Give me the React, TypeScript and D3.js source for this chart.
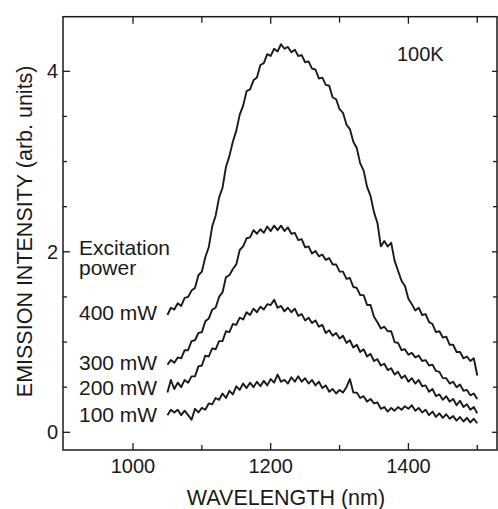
import React from "react";
import * as d3 from "d3";

const wavelengths = [
  1050, 1055, 1060, 1065, 1070, 1075, 1080, 1085, 1090, 1095,
  1100, 1105, 1110, 1115, 1120, 1125, 1130, 1135, 1140, 1145,
  1150, 1155, 1160, 1165, 1170, 1175, 1180, 1185, 1190, 1195,
  1200, 1205, 1210, 1215, 1220, 1225, 1230, 1235, 1240, 1245,
  1250, 1255, 1260, 1265, 1270, 1275, 1280, 1285, 1290, 1295,
  1300, 1305, 1310, 1315, 1320, 1325, 1330, 1335, 1340, 1345,
  1350, 1355, 1360, 1365, 1370, 1375, 1380, 1385, 1390, 1395,
  1400, 1405, 1410, 1415, 1420, 1425, 1430, 1435, 1440, 1445,
  1450, 1455, 1460, 1465, 1470, 1475, 1480, 1485, 1490, 1495,
  1500,
];

const p400 = [
  1.30, 1.38, 1.36, 1.43, 1.40, 1.49, 1.50, 1.57, 1.60, 1.74,
  1.78, 1.94, 2.05, 2.28, 2.40, 2.60, 2.71, 2.94, 3.06, 3.22,
  3.34, 3.52, 3.62, 3.78, 3.80, 3.90, 3.93, 4.07, 4.09, 4.19,
  4.17, 4.25, 4.22, 4.30, 4.25, 4.27, 4.21, 4.24, 4.17, 4.18,
  4.10, 4.11, 4.03, 4.02, 3.92, 3.93, 3.85, 3.84, 3.71, 3.69,
  3.58, 3.54, 3.41, 3.36, 3.22, 3.15, 2.98, 2.90, 2.72, 2.62,
  2.44, 2.32, 2.06, 2.12, 2.06, 2.10, 1.90, 1.79, 1.68, 1.62,
  1.48, 1.42, 1.35, 1.38, 1.30, 1.31, 1.22, 1.20, 1.11, 1.12,
  1.05, 1.06, 0.97, 0.97, 0.89, 0.89, 0.82, 0.84, 0.79, 0.82,
  0.63,
];

const p300 = [
  0.75, 0.80, 0.77, 0.83, 0.82, 0.91, 0.91, 1.01, 1.02, 1.10,
  1.11, 1.23, 1.26, 1.36, 1.38, 1.50, 1.55, 1.72, 1.74, 1.81,
  1.86, 2.02, 2.06, 2.15, 2.16, 2.24, 2.20, 2.25, 2.21, 2.28,
  2.23, 2.29, 2.24, 2.29, 2.23, 2.27, 2.20, 2.21, 2.13, 2.14,
  2.05, 2.06, 1.98, 2.01, 1.95, 1.97, 1.91, 1.93, 1.86, 1.86,
  1.78, 1.78, 1.70, 1.71, 1.61, 1.60, 1.52, 1.52, 1.41, 1.41,
  1.28, 1.22, 1.15, 1.17, 1.12, 1.12, 1.00, 0.99, 0.91, 0.92,
  0.86, 0.88, 0.83, 0.85, 0.79, 0.80, 0.74, 0.75, 0.68, 0.67,
  0.60, 0.60, 0.54, 0.56, 0.50, 0.53, 0.46, 0.47, 0.41, 0.43,
  0.37,
];

const p200 = [
  0.44, 0.58, 0.48, 0.55, 0.50, 0.58, 0.55, 0.62, 0.62, 0.73,
  0.74, 0.85, 0.84, 0.93, 0.92, 1.01, 1.01, 1.12, 1.11, 1.20,
  1.19, 1.27, 1.25, 1.33, 1.30, 1.37, 1.33, 1.39, 1.36, 1.42,
  1.41, 1.47, 1.38, 1.40, 1.34, 1.38, 1.33, 1.37, 1.29, 1.31,
  1.24, 1.27, 1.21, 1.24, 1.17, 1.19, 1.10, 1.13, 1.07, 1.10,
  1.04, 1.07, 0.99, 1.02, 0.94, 0.97, 0.89, 0.92, 0.84, 0.87,
  0.79, 0.81, 0.74, 0.76, 0.69, 0.71, 0.64, 0.67, 0.60, 0.63,
  0.56, 0.60, 0.54, 0.58, 0.51, 0.52, 0.45, 0.48, 0.40, 0.42,
  0.36, 0.40, 0.34, 0.37, 0.30, 0.35, 0.28, 0.31, 0.25, 0.28,
  0.21,
];

const p100 = [
  0.19, 0.25, 0.22, 0.25, 0.19, 0.24, 0.19, 0.14, 0.26, 0.22,
  0.27, 0.25, 0.32, 0.31, 0.38, 0.36, 0.43, 0.38, 0.46, 0.42,
  0.51, 0.47, 0.54, 0.49, 0.55, 0.50, 0.56, 0.51, 0.57, 0.52,
  0.59, 0.55, 0.64, 0.56, 0.58, 0.54, 0.61, 0.56, 0.62, 0.56,
  0.60, 0.54, 0.58, 0.52, 0.56, 0.49, 0.52, 0.45, 0.48, 0.43,
  0.47, 0.44, 0.50, 0.59, 0.44, 0.44, 0.38, 0.40, 0.34, 0.37,
  0.32, 0.33, 0.26, 0.28, 0.23, 0.27, 0.24, 0.28, 0.25, 0.29,
  0.26, 0.30, 0.24, 0.27, 0.22, 0.25, 0.19, 0.23, 0.17, 0.21,
  0.16, 0.20, 0.15, 0.18, 0.13, 0.17, 0.12, 0.16, 0.11, 0.15,
  0.10,
];

const seriesList = [p400, p300, p200, p100];

const xMajorTicks = [1000, 1200, 1400];
const xMinorTicks = [1100, 1300, 1500];
const yMajorTicks = [0, 2, 4];
const yMinorTicks = [0.5, 1, 1.5, 2.5, 3, 3.5];

const legendLines = ["Excitation", "power"];
const powerLabels = ["400 mW", "300 mW", "200 mW", "100 mW"];
const tempLabel = "100K";
const xTitle = "WAVELENGTH (nm)";
const yTitle = "EMISSION INTENSITY (arb. units)";

const W = 498;
const H = 509;
const left = 63;
const right = 497;
const top = 16.7;
const bottom = 450;

const FONT = "'Liberation Sans', Arial, Helvetica, sans-serif";
const INK = "#1a1a1a";

export default function App() {
  const x = d3.scaleLinear().domain([898.3, 1528.7]).range([left, right]);
  const y = d3.scaleLinear().domain([-0.196, 4.605]).range([bottom, top]);

  const line = d3
    .line<number>()
    .x((_, i) => x(wavelengths[i]))
    .y((d) => y(d));

  const powerBaselines = [320, 370, 395, 421.7];

  return (
    <svg
      width={W}
      height={H}
      style={{ position: "absolute", left: 0, top: 0, background: "#fff" }}
      fontFamily={FONT}
    >
      <rect x={0} y={0} width={W} height={H} fill="#fff" />
      {seriesList.map((s, i) => (
        <path
          key={i}
          d={line(s) || ""}
          fill="none"
          stroke={INK}
          strokeWidth={1.9}
          strokeLinejoin="round"
        />
      ))}
      <rect
        x={left}
        y={top}
        width={right - left}
        height={bottom - top}
        fill="none"
        stroke={INK}
        strokeWidth={1.5}
      />
      {xMajorTicks.map((t) => (
        <g key={"xM" + t}>
          <line x1={x(t)} x2={x(t)} y1={bottom} y2={bottom - 7} stroke={INK} strokeWidth={1.3} />
          <line x1={x(t)} x2={x(t)} y1={top} y2={top + 7} stroke={INK} strokeWidth={1.3} />
          <text x={x(t)} y={473} textAnchor="middle" fontSize={20} fill={INK}>
            {t}
          </text>
        </g>
      ))}
      {xMinorTicks.map((t) => (
        <g key={"xm" + t}>
          <line x1={x(t)} x2={x(t)} y1={bottom} y2={bottom - 5} stroke={INK} strokeWidth={1.3} />
          <line x1={x(t)} x2={x(t)} y1={top} y2={top + 6} stroke={INK} strokeWidth={1.3} />
        </g>
      ))}
      {yMajorTicks.map((t) => (
        <g key={"yM" + t}>
          <line x1={left} x2={left + 7} y1={y(t)} y2={y(t)} stroke={INK} strokeWidth={1.3} />
          <line x1={right} x2={right - 5} y1={y(t)} y2={y(t)} stroke={INK} strokeWidth={1.3} />
          <text x={58} y={y(t) + 7} textAnchor="end" fontSize={20} fill={INK}>
            {t}
          </text>
        </g>
      ))}
      {yMinorTicks.map((t) => (
        <g key={"ym" + t}>
          <line x1={left} x2={left + 4} y1={y(t)} y2={y(t)} stroke={INK} strokeWidth={1.3} />
          <line x1={right} x2={right - 4} y1={y(t)} y2={y(t)} stroke={INK} strokeWidth={1.3} />
        </g>
      ))}
      <text x={397} y={61} fontSize={20} fill={INK}>
        {tempLabel}
      </text>
      <text x={79} y={255} fontSize={21} fill={INK}>
        {legendLines.map((l, i) => (
          <tspan key={l} x={79} dy={i === 0 ? 0 : 20}>
            {l}
          </tspan>
        ))}
      </text>
      {powerLabels.map((l, i) => (
        <text key={l} x={79} y={powerBaselines[i]} fontSize={21} fill={INK}>
          {l}
        </text>
      ))}
      <text x={286} y={505} textAnchor="middle" fontSize={21.5} fill={INK}>
        {xTitle}
      </text>
      <text
        transform={`translate(32, ${(top + bottom) / 2 - 2}) rotate(-90)`}
        textAnchor="middle"
        fontSize={21.5}
        fill={INK}
      >
        {yTitle}
      </text>
    </svg>
  );
}
